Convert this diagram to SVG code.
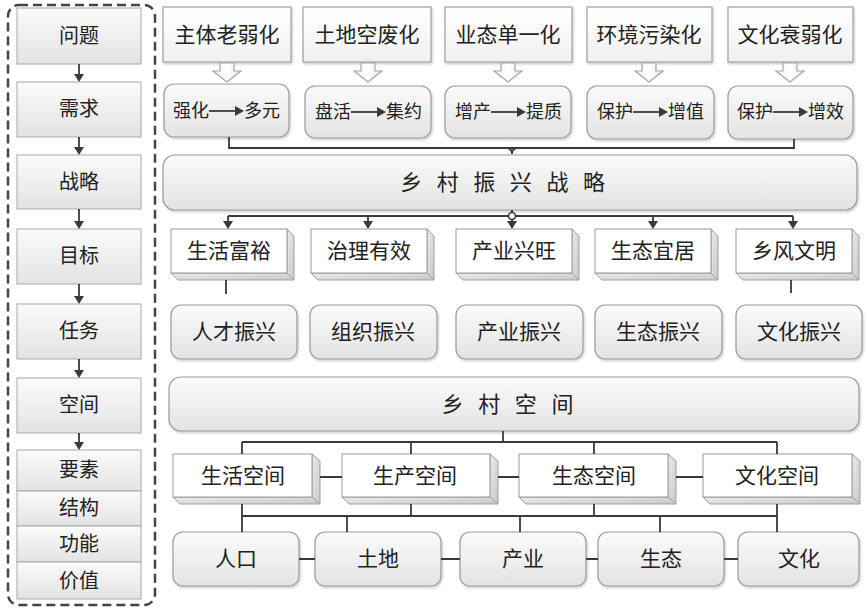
<svg xmlns="http://www.w3.org/2000/svg" width="867" height="609" viewBox="0 0 867 609">
<defs>
<linearGradient id="gBox" x1="0" y1="0" x2="0" y2="1"><stop offset="0" stop-color="#fbfbfb"/><stop offset="1" stop-color="#e3e3e3"/></linearGradient>
<linearGradient id="gFlat" x1="0" y1="0" x2="0" y2="1"><stop offset="0" stop-color="#ffffff"/><stop offset="1" stop-color="#f0f0f0"/></linearGradient>
<linearGradient id="gSide" x1="0" y1="0" x2="1" y2="1"><stop offset="0" stop-color="#ececec"/><stop offset="1" stop-color="#c8c8c8"/></linearGradient>
<linearGradient id="gArr" x1="0" y1="0" x2="1" y2="0"><stop offset="0" stop-color="#f2f2f2"/><stop offset="0.5" stop-color="#ffffff"/><stop offset="1" stop-color="#e6e6e6"/></linearGradient>
<filter id="sh" x="-5%" y="-5%" width="115%" height="125%"><feDropShadow dx="1" dy="1.5" stdDeviation="1" flood-color="#000" flood-opacity="0.22"/></filter>
</defs>
<style>
text{font-family:"Noto Sans CJK SC","Liberation Sans",sans-serif;fill:#222;text-anchor:middle}
.f20{font-size:20px}.f21{font-size:21px}.f18{font-size:18px}.f22{font-size:22px}
.lb{fill:url(#gBox);stroke:#a8a8a8;stroke-width:1}
.rb{fill:url(#gBox);stroke:#9a9a9a;stroke-width:1.2;filter:url(#sh)}
.pb{fill:url(#gFlat);stroke:#a0a0a0;stroke-width:1.2;filter:url(#sh)}
.front{fill:#ffffff;stroke:#9a9a9a;stroke-width:1}
.side{fill:url(#gSide);stroke:#a0a0a0;stroke-width:1}
.ha{fill:url(#gArr);stroke:#a5a5a5;stroke-width:1.2}
.ln{stroke:#3a3a3a;stroke-width:1.8;fill:none}
.ah{fill:#3a3a3a}
.sp{letter-spacing:4.8px}
</style>
<rect width="867" height="609" fill="#ffffff"/>

<!-- left column -->
<g id="left-frame"><rect x="8" y="5" width="147" height="600" rx="11" fill="none" stroke="#444" stroke-width="2.5" stroke-dasharray="9 5"/></g>
<g id="n-wenti"><rect class="lb" x="17" y="8" width="124" height="56"/><text class="f20" x="79" y="43">问题</text></g>
<g id="n-xuqiu"><rect class="lb" x="17" y="82" width="124" height="55"/><text class="f20" x="79" y="116">需求</text></g>
<g id="n-zhanlue"><rect class="lb" x="17" y="155" width="124" height="54"/><text class="f20" x="79" y="189">战略</text></g>
<g id="n-mubiao"><rect class="lb" x="17" y="229" width="124" height="55"/><text class="f20" x="79" y="263">目标</text></g>
<g id="n-renwu"><rect class="lb" x="17" y="304" width="124" height="55"/><text class="f20" x="79" y="338">任务</text></g>
<g id="n-kongjian"><rect class="lb" x="17" y="378" width="124" height="55"/><text class="f20" x="79" y="412">空间</text></g>
<g id="n-yaosu"><rect class="lb" x="17" y="450" width="124" height="41"/><text class="f20" x="79" y="477">要素</text></g>
<g id="n-jiegou"><rect class="lb" x="17" y="491" width="124" height="35"/><text class="f20" x="79" y="515">结构</text></g>
<g id="n-gongneng"><rect class="lb" x="17" y="526" width="124" height="36"/><text class="f20" x="79" y="551">功能</text></g>
<g id="n-jiazhi"><rect class="lb" x="17" y="562" width="124" height="37"/><text class="f20" x="79" y="588">价值</text></g>

<!-- problem row -->
<g id="p1"><rect class="pb" x="163" y="7" width="128" height="55"/><text class="f21" x="227" y="42">主体老弱化</text></g>
<g id="p2"><rect class="pb" x="303" y="7" width="128" height="55"/><text class="f21" x="367" y="42">土地空废化</text></g>
<g id="p3"><rect class="pb" x="445" y="7" width="127" height="55"/><text class="f21" x="508" y="42">业态单一化</text></g>
<g id="p4"><rect class="pb" x="587" y="7" width="125" height="55"/><text class="f21" x="649" y="42">环境污染化</text></g>
<g id="p5"><rect class="pb" x="728" y="7" width="125" height="55"/><text class="f21" x="790" y="42">文化衰弱化</text></g>

<!-- hollow arrows -->
<g id="hollow-arrows">
<polygon class="ha" points="220,63 234,63 234,71 241,71 227,82 213,71 220,71"/>
<polygon class="ha" points="361,63 375,63 375,71 382,71 368,82 354,71 361,71"/>
<polygon class="ha" points="501,63 515,63 515,71 522,71 508,82 494,71 501,71"/>
<polygon class="ha" points="642,63 656,63 656,71 663,71 649,82 635,71 642,71"/>
<polygon class="ha" points="783,63 797,63 797,71 804,71 790,82 776,71 783,71"/>
</g>

<!-- requirement row -->
<g id="r1"><rect class="rb" x="164" y="84" width="125" height="53" rx="10"/><text class="f18" x="191" y="117">强化</text><line class="ln" x1="209" y1="111" x2="237" y2="111" stroke-width="1.6"/><polygon class="ah" points="235,106 244,111 235,116"/><text class="f18" x="262" y="117">多元</text></g>
<g id="r2"><rect class="rb" x="305" y="86" width="126" height="52" rx="10"/><text class="f18" x="333" y="118">盘活</text><line class="ln" x1="351" y1="112" x2="379" y2="112" stroke-width="1.6"/><polygon class="ah" points="377,107 386,112 377,117"/><text class="f18" x="404" y="118">集约</text></g>
<g id="r3"><rect class="rb" x="445" y="86" width="126" height="52" rx="10"/><text class="f18" x="473" y="118">增产</text><line class="ln" x1="491" y1="112" x2="519" y2="112" stroke-width="1.6"/><polygon class="ah" points="517,107 526,112 517,117"/><text class="f18" x="544" y="118">提质</text></g>
<g id="r4"><rect class="rb" x="587" y="86" width="127" height="53" rx="10"/><text class="f18" x="615" y="118">保护</text><line class="ln" x1="633" y1="112" x2="661" y2="112" stroke-width="1.6"/><polygon class="ah" points="659,107 668,112 659,117"/><text class="f18" x="686" y="118">增值</text></g>
<g id="r5"><rect class="rb" x="728" y="86" width="125" height="53" rx="10"/><text class="f18" x="755" y="118">保护</text><line class="ln" x1="773" y1="112" x2="801" y2="112" stroke-width="1.6"/><polygon class="ah" points="799,107 808,112 799,117"/><text class="f18" x="826" y="118">增效</text></g>

<!-- strategy -->
<g id="strategy"><rect class="rb" x="163" y="155" width="694" height="55" rx="12"/><text class="f22 sp" x="505" y="190">乡 村 振 兴 战 略</text></g>

<!-- goals (3D boxes) -->
<g id="g1"><polygon class="side" points="287,229 294,236 294,280 287,273"/><polygon class="side" points="171,273 287,273 294,280 178,280"/><rect class="front" x="171" y="229" width="116" height="44"/><text class="f21" x="229" y="258">生活富裕</text></g>
<g id="g2"><polygon class="side" points="427,229 434,236 434,280 427,273"/><polygon class="side" points="311,273 427,273 434,280 318,280"/><rect class="front" x="311" y="229" width="116" height="44"/><text class="f21" x="369" y="258">治理有效</text></g>
<g id="g3"><polygon class="side" points="572,229 579,236 579,280 572,273"/><polygon class="side" points="456,273 572,273 579,280 463,280"/><rect class="front" x="456" y="229" width="116" height="44"/><text class="f21" x="514" y="258">产业兴旺</text></g>
<g id="g4"><polygon class="side" points="711,229 718,236 718,280 711,273"/><polygon class="side" points="595,273 711,273 718,280 602,280"/><rect class="front" x="595" y="229" width="116" height="44"/><text class="f21" x="653" y="258">生态宜居</text></g>
<g id="g5"><polygon class="side" points="852,229 859,236 859,280 852,273"/><polygon class="side" points="736,273 852,273 859,280 743,280"/><rect class="front" x="736" y="229" width="116" height="44"/><text class="f21" x="794" y="258">乡风文明</text></g>

<!-- tasks -->
<g id="t1"><rect class="rb" x="171" y="305" width="126" height="54" rx="10"/><text class="f21" x="234" y="339">人才振兴</text></g>
<g id="t2"><rect class="rb" x="310" y="305" width="127" height="54" rx="10"/><text class="f21" x="373" y="339">组织振兴</text></g>
<g id="t3"><rect class="rb" x="456" y="305" width="127" height="54" rx="10"/><text class="f21" x="519" y="339">产业振兴</text></g>
<g id="t4"><rect class="rb" x="595" y="305" width="127" height="54" rx="10"/><text class="f21" x="658" y="339">生态振兴</text></g>
<g id="t5"><rect class="rb" x="736" y="305" width="126" height="54" rx="10"/><text class="f21" x="799" y="339">文化振兴</text></g>

<!-- rural space -->
<g id="space"><rect class="rb" x="169" y="377" width="690" height="54" rx="12"/><text class="f22 sp" x="510" y="412">乡 村 空 间</text></g>

<!-- space types (3D) -->
<g id="s1"><polygon class="side" points="312,454 320,461 320,504 312,497"/><polygon class="side" points="173,497 312,497 320,504 180,504"/><rect class="front" x="173" y="454" width="139" height="43"/><text class="f21" x="243" y="483">生活空间</text></g>
<g id="s2"><polygon class="side" points="490,454 498,461 498,504 490,497"/><polygon class="side" points="342,497 490,497 498,504 349,504"/><rect class="front" x="342" y="454" width="148" height="43"/><text class="f21" x="415" y="483">生产空间</text></g>
<g id="s3"><polygon class="side" points="668,454 676,461 676,504 668,497"/><polygon class="side" points="519,497 668,497 676,504 526,504"/><rect class="front" x="519" y="454" width="149" height="43"/><text class="f21" x="594" y="483">生态空间</text></g>
<g id="s4"><polygon class="side" points="852,454 860,461 860,504 852,497"/><polygon class="side" points="703,497 852,497 860,504 710,504"/><rect class="front" x="703" y="454" width="149" height="43"/><text class="f21" x="777" y="483">文化空间</text></g>

<!-- elements -->
<g id="e1"><rect class="rb" x="173" y="532" width="126" height="54" rx="10"/><text class="f21" x="236" y="566">人口</text></g>
<g id="e2"><rect class="rb" x="315" y="532" width="126" height="54" rx="10"/><text class="f21" x="378" y="566">土地</text></g>
<g id="e3"><rect class="rb" x="460" y="532" width="126" height="54" rx="10"/><text class="f21" x="523" y="566">产业</text></g>
<g id="e4"><rect class="rb" x="598" y="532" width="126" height="54" rx="10"/><text class="f21" x="661" y="566">生态</text></g>
<g id="e5"><rect class="rb" x="738" y="532" width="121" height="54" rx="10"/><text class="f21" x="799" y="566">文化</text></g>

<!-- connectors -->
<g id="connectors">
<path class="ln" d="M79,64 V75 M79,137 V148 M79,209 V222 M79,284 V297 M79,359 V371 M79,433 V443"/>
<polygon class="ah" points="74,74 84,74 79,82"/>
<polygon class="ah" points="74,147 84,147 79,155"/>
<polygon class="ah" points="74,221 84,221 79,229"/>
<polygon class="ah" points="74,296 84,296 79,304"/>
<polygon class="ah" points="74,370 84,370 79,378"/>
<polygon class="ah" points="74,442 84,442 79,450"/>

<path class="ln" d="M229,137 V148 H794 V139"/>
<path class="ln" d="M506,148 Q512,148 512,154 Q512,148 518,148"/>

<path class="ln" d="M512,210 V222 M228,216 H793 M228,216 V222 M368,216 V222 M653,216 V222 M793,216 V222"/>
<circle cx="512" cy="216" r="3.5" fill="#fff" stroke="#3a3a3a" stroke-width="1.6"/>
<polygon class="ah" points="223,221 233,221 228,229"/>
<polygon class="ah" points="363,221 373,221 368,229"/>
<polygon class="ah" points="507,221 517,221 512,229"/>
<polygon class="ah" points="648,221 658,221 653,229"/>
<polygon class="ah" points="788,221 798,221 793,229"/>

<path class="ln" d="M226,280 V294 M791,280 V293"/>

<path class="ln" d="M503,431 V442 M242,442 H777 M242,442 V454 M411,442 V454 M594,442 V454 M777,442 V454"/>
<path class="ln" d="M320,477 H342 M498,477 H519 M676,477 H703"/>
<path class="ln" d="M242,504 V532 M411,504 V516 M594,504 V516 M777,504 V532 M242,516 H777 M347,516 V532 M520,516 V532 M660,516 V532"/>
<path class="ln" d="M299,559 H315 M441,559 H460 M586,559 H598 M724,559 H738"/>
</g>
</svg>
